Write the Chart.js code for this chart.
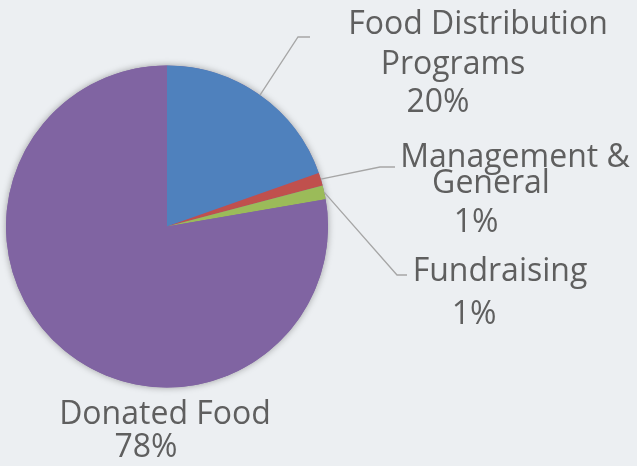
<!DOCTYPE html>
<html>
<head>
<meta charset="utf-8">
<script src="https://cdn.jsdelivr.net/npm/chart.js@4.4.0/dist/chart.umd.min.js"></script>
<style>
  html, body { margin: 0; padding: 0; background: #eceff2; }
  #wrap { width: 637px; height: 466px; }
</style>
</head>
<body>
<div id="wrap"><canvas id="pie" width="637" height="466"></canvas></div>
<script>
// Data
const categories = ['Food Distribution Programs', 'Management & General', 'Fundraising', 'Donated Food'];
const shares = [19.6, 1.3, 1.4, 77.7];
const pctLabels = ['20%', '1%', '1%', '78%'];
const colors = ['#4f81bd', '#c0504d', '#9bbb59', '#8064a2'];

// label text lines + where they sit, and the leader line bends
const labelLayout = [
    { lines: [['Food Distribution', 478, 25], ['Programs', 453, 65], [pctLabels[0], 438, 103]], bend: [298, 37], end: [310, 37] },
    { lines: [['Management &', 515, 158], ['General', 491, 184], [pctLabels[1], 476, 223]], bend: [380, 167], end: [395, 167] },
    { lines: [['Fundraising', 500, 272], [pctLabels[2], 474, 315]], bend: [397, 275], end: [407, 275] },
    { lines: [['Donated Food', 165, 415], [pctLabels[3], 146, 448]] }
];

const FONT = '32px "Open Sans", sans-serif';

// soft shadow behind the whole pie
const pieShadow = {
    id: 'pieShadow',
    beforeDatasetsDraw(chart) {
        const arc = chart.getDatasetMeta(0).data[0];
        if (!arc) return;
        const ctx = chart.ctx;
        ctx.save();
        ctx.shadowColor = 'rgba(0,0,0,0.35)';
        ctx.shadowBlur = 7;
        ctx.fillStyle = '#8064a2';
        ctx.beginPath();
        ctx.arc(arc.x, arc.y, arc.outerRadius, 0, Math.PI * 2);
        ctx.fill();
        ctx.restore();
    }
};

// leader lines and labels
const pieLabels = {
    id: 'pieLabels',
    afterDatasetsDraw(chart) {
        const ctx = chart.ctx;
        const arcs = chart.getDatasetMeta(0).data;
        ctx.save();
        arcs.forEach((arc, i) => {
            const lay = labelLayout[i];
            if (lay.bend) {
                const mid = (arc.startAngle + arc.endAngle) / 2;
                const sx = arc.x + Math.cos(mid) * arc.outerRadius;
                const sy = arc.y + Math.sin(mid) * arc.outerRadius;
                ctx.strokeStyle = '#a6a6a6';
                ctx.lineWidth = 1.3;
                ctx.beginPath();
                ctx.moveTo(sx, sy);
                ctx.lineTo(lay.bend[0], lay.bend[1]);
                ctx.lineTo(lay.end[0], lay.end[1]);
                ctx.stroke();
            }
            ctx.font = FONT;
            ctx.fillStyle = '#5f5f5f';
            ctx.textAlign = 'center';
            ctx.textBaseline = 'middle';
            lay.lines.forEach(([txt, x, y]) => ctx.fillText(txt, x, y));
        });
        ctx.restore();
    }
};

const ctx = document.getElementById('pie').getContext('2d');
const pieChart = new Chart(ctx, {
    type: 'pie',
    data: {
        labels: categories,
        datasets: [{
            data: shares,
            backgroundColor: colors,
            borderWidth: 0
        }]
    },
    options: {
        responsive: false,
        animation: false,
        layout: { padding: { left: 6, top: 65, right: 309, bottom: 78 } },
        plugins: {
            legend: { display: false },
            tooltip: { enabled: false }
        }
    },
    plugins: [pieShadow, pieLabels]
});
</script>
</body>
</html>
